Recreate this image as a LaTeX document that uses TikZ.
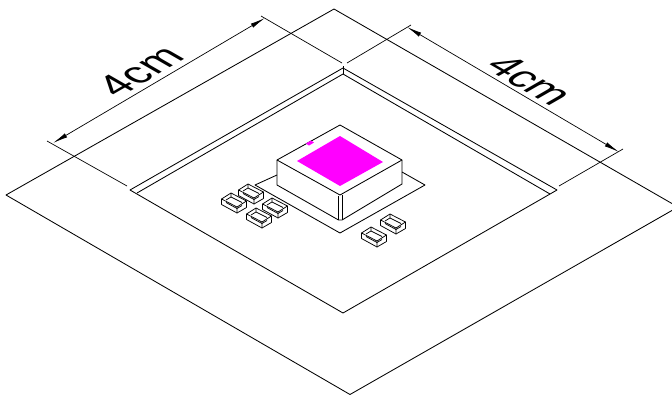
\documentclass[tikz,border=0pt]{standalone}
\usepackage{fontspec}
\setmainfont{Liberation Sans}
\usetikzlibrary{arrows.meta}
\definecolor{mg}{RGB}{255,0,255}
\tikzset{
  ln/.style={draw=black,line width=0.85pt,line join=round},
  dim/.style={draw=black,line width=0.7pt},
  dimarrow/.style={dim,{Latex[length=15pt,width=4.5pt]}-{Latex[length=15pt,width=4.5pt]}},
  smd/.style={draw=black,line width=0.75pt,line join=round},
  lab/.style={font=\fontsize{42}{42}\selectfont,inner sep=0pt,outer sep=0pt,anchor=base west,transform shape}
}
\newcommand{\smdpart}[2]{%
  \begin{scope}[shift={(#1,#2)}]
    \draw[smd] (-12.5,-4)--(-3,-10)--(12.5,-2)--(12.5,4.5)--(3,10)--(-12.5,1.5)--cycle;
    \draw[smd] (-12.5,-4)--(3,4)--(12.5,-2) (3,4)--(3,10);
    \draw[smd] (-8,-3)--(-3,-6)--(8,-0.5) (-3,-10)--(-3,-6) (-8,-0.5)--(3,5.5)--(8,2.5);
  \end{scope}}
\begin{document}
\begin{tikzpicture}[x=1pt,y=-1pt]
\useasboundingbox (0,0) rectangle (672,394);
\fill[white] (0,0) rectangle (672,394);
\begin{scope}
\clip (0,0) rectangle (672,394);
\coordinate (ot) at (334,9);
\coordinate (ol) at (6,195);
\coordinate (ob) at (350,394.5);
\coordinate (or) at (678,207);
\draw[ln] (ot)--(or)--(ob)--(ol)--cycle;
\end{scope}
\coordinate (it) at (343,68);
\coordinate (il) at (130,190);
\coordinate (ir) at (557,190);
\coordinate (ib) at (343,313);
\draw[ln] (il)--(it)--(ir)--(ib)--cycle;
\coordinate (jt) at (343,74);
\coordinate (jl) at (137,193);
\coordinate (jr) at (550,194);
\draw[ln] (jl)--(jt)--(jr);
\draw[ln] (343,66)--(jt);
% dimensions
\coordinate (a1) at (47,141);
\coordinate (a2) at (127,186);
\coordinate (a3) at (261,16);
\coordinate (a4) at (342,63);
\coordinate (a5) at (53,143);
\coordinate (a6) at (265,18);
\draw[dim] (a1)--(a2);
\draw[dim] (a3)--(a4);
\draw[dimarrow] (a5)--(a6);
\coordinate (b1) at (411,25);
\coordinate (b2) at (347,63);
\coordinate (b3) at (623,149);
\coordinate (b4) at (559,186);
\coordinate (b5) at (407,27);
\coordinate (b6) at (619,152);
\draw[dim] (b1)--(b2);
\draw[dim] (b3)--(b4);
\draw[dimarrow] (b5)--(b6);
\begin{scope}[cm={.87,.5,-.87,.5,(118,98)}]
\node[lab] (l1) at (0,0) {4cm};
\end{scope}
\begin{scope}[cm={.87,-.5,.87,.5,(483,67.4)}]
\node[lab] (l2) at (0,0) {4cm};
\end{scope}
% pad
\draw[ln] (277,175)--(255,185)--(340,233)--(425,185)--(402,172);
% package
\fill[mg] (340,136)--(383,162)--(340,186)--(297,161)--cycle;
\draw[ln] (340,125)--(402,160)--(340,195)--(277,160)--cycle;
\draw[ln] (277,160)--(277,185)--(338.5,220)--(342,220)--(402,184)--(402,160);
\draw[ln] (342,195)--(342,220) (338.5,196)--(338.5,220);
\fill[mg] (306,143.5)--(311,140.5)--(314,142.5)--(309,145.5)--cycle;
\smdpart{251}{194}
\smdpart{234}{203}
\smdpart{275}{208}
\smdpart{259}{218}
\smdpart{393}{224}
\smdpart{374}{237}
\end{tikzpicture}
\end{document}
